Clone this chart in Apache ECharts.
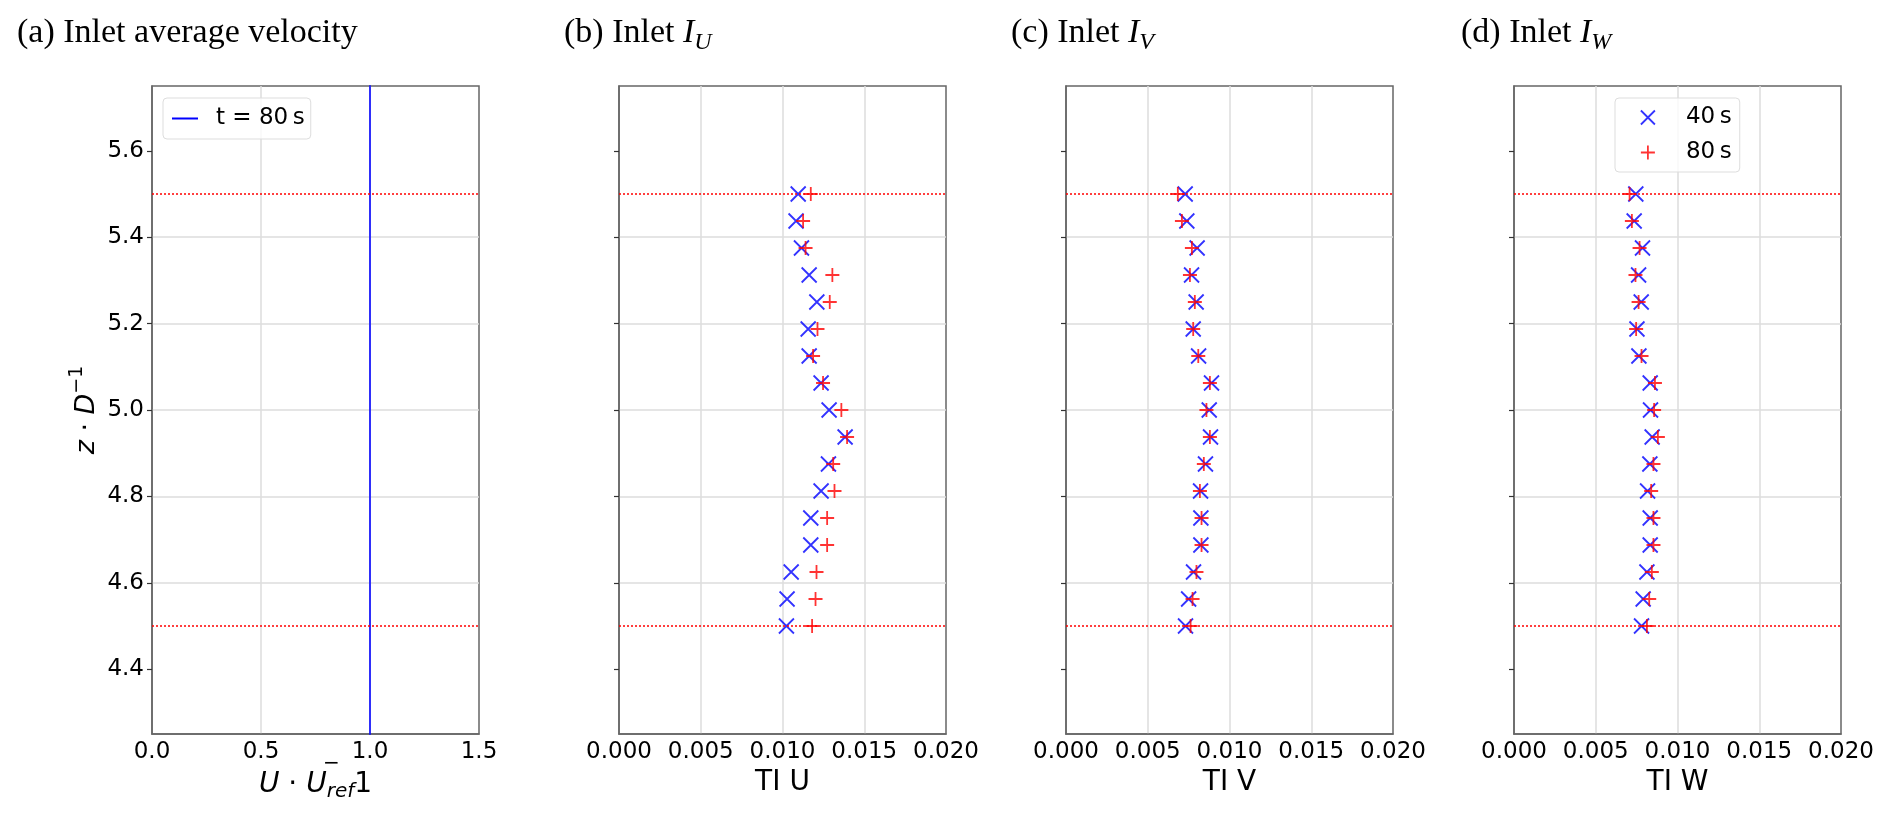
<!doctype html>
<html lang="en">
<head>
<meta charset="utf-8">
<title>Inlet profiles</title>
<style>
  html, body { margin: 0; padding: 0; background: #fff; }
  #chart { width: 1892px; height: 817px; }
</style>
</head>
<body>
<div id="chart"></div>
<script src="https://cdn.jsdelivr.net/npm/echarts@6/dist/echarts.min.js"></script>
<script>
// sampling heights z/D, top to bottom
var zLevels = [5.5, 5.4375, 5.375, 5.3125, 5.25, 5.1875, 5.125, 5.0625, 5.0,
               4.9375, 4.875, 4.8125, 4.75, 4.6875, 4.625, 4.5625, 4.5];

// turbulence intensity at the inlet, 40 s and 80 s
var tiU40 = [0.01096, 0.01083, 0.01116, 0.01163, 0.01210, 0.01157, 0.01163, 0.01236, 0.01285,
             0.01383, 0.01281, 0.01236, 0.01173, 0.01173, 0.01053, 0.01028, 0.01024];
var tiU80 = [0.01173, 0.01126, 0.01141, 0.01305, 0.01289, 0.01214, 0.01187, 0.01248, 0.01360,
             0.01395, 0.01310, 0.01318, 0.01273, 0.01273, 0.01208, 0.01202, 0.01181];
var tiV40 = [0.00729, 0.00739, 0.00802, 0.00768, 0.00796, 0.00778, 0.00811, 0.00890, 0.00876,
             0.00884, 0.00853, 0.00823, 0.00825, 0.00825, 0.00780, 0.00750, 0.00731];
var tiV80 = [0.00684, 0.00709, 0.00770, 0.00758, 0.00788, 0.00778, 0.00809, 0.00880, 0.00859,
             0.00880, 0.00843, 0.00819, 0.00829, 0.00829, 0.00798, 0.00774, 0.00762];
var tiW40 = [0.00745, 0.00735, 0.00786, 0.00762, 0.00778, 0.00752, 0.00764, 0.00833, 0.00835,
             0.00845, 0.00831, 0.00817, 0.00833, 0.00833, 0.00813, 0.00790, 0.00780];
var tiW80 = [0.00707, 0.00721, 0.00768, 0.00743, 0.00762, 0.00747, 0.00780, 0.00862, 0.00857,
             0.00880, 0.00853, 0.00839, 0.00853, 0.00853, 0.00843, 0.00827, 0.00813];

// mean inlet velocity profile (normalised)
var velZ = [4.0, 6.0];
var velU = [1.0, 1.0];

// rotor zone limits
var zoneBounds = [4.5, 5.5];

var yTicks = [4.4, 4.6, 4.8, 5.0, 5.2, 5.4, 5.6];
var titles = ['(a) Inlet average velocity', '(b) Inlet {i|I}{s|U}', '(c) Inlet {i|I}{s|V}', '(d) Inlet {i|I}{s|W}'];
var xNames = ['{it|U}{n| · }{it|U}{sub|ref}{n|1}', 'TI U', 'TI V', 'TI W'];

var chart = echarts.init(document.getElementById('chart'));

var sans = 'DejaVu Sans';
var serif = 'Liberation Serif';
var spine = '#666';
var gridLeft = [152, 619, 1066, 1514];
var titleLeft = [17, 564, 1011, 1461];

var grids = [], xAxes = [], yAxes = [], titleList = [], series = [];

function zoneSeries(k) {
    return {
        type: 'line', name: 'zone' + k, xAxisIndex: k, yAxisIndex: k, data: [],
        silent: true,
        markLine: {
            silent: true, symbol: ['none', 'none'], label: { show: false },
            lineStyle: { color: '#ff0000', type: [2, 2], width: 1.5 },
            data: zoneBounds.map(function (v) { return { yAxis: v }; })
        }
    };
}

for (var k = 0; k < 4; k++) {
    grids.push({
        left: gridLeft[k], top: 86, width: 327, height: 648,
        show: true, borderColor: spine, borderWidth: 1.5, backgroundColor: 'transparent'
    });
    titleList.push({
        text: titles[k], left: titleLeft[k], top: 11, padding: 0,
        textStyle: {
            fontFamily: serif, fontSize: 34, fontWeight: 'normal', color: '#000', lineHeight: 44,
            rich: {
                i: { fontFamily: serif, fontStyle: 'italic', fontSize: 34, color: '#000', lineHeight: 44 },
                s: { fontFamily: serif, fontStyle: 'italic', fontSize: 24, color: '#000', verticalAlign: 'bottom' }
            }
        }
    });
    xAxes.push({
        type: 'value', gridIndex: k,
        min: 0, max: k === 0 ? 1.5 : 0.02, interval: k === 0 ? 0.5 : 0.005,
        axisLine: { show: true, onZero: false, lineStyle: { color: spine, width: 1.5 } },
        axisTick: { show: false },
        axisLabel: {
            color: '#000', fontFamily: sans, fontSize: 23, margin: 7,
            formatter: (function (d) { return function (v) { return v.toFixed(d); }; })(k === 0 ? 1 : 3)
        },
        splitLine: { show: true, showMinLine: false, showMaxLine: false, lineStyle: { color: '#dcdcdc', width: 1.5 } },
        name: xNames[k], nameLocation: 'middle', nameGap: 34,
        nameTextStyle: {
            color: '#000', fontFamily: sans, fontSize: 28,
            rich: {
                it: { fontFamily: sans, fontStyle: 'italic', fontSize: 28, color: '#000', lineHeight: 34 },
                n: { fontFamily: sans, fontSize: 28, color: '#000', lineHeight: 34 },
                sub: { fontFamily: sans, fontStyle: 'italic', fontSize: 20, color: '#000', verticalAlign: 'bottom' }
            }
        }
    });
    yAxes.push({
        type: 'value', gridIndex: k, min: 4.25, max: 5.75,
        axisLine: { show: true, onZero: false, lineStyle: { color: spine, width: 1.5 } },
        axisTick: { show: true, length: 5, customValues: yTicks, lineStyle: { color: '#333', width: 1.2 } },
        axisLabel: {
            show: k === 0, customValues: yTicks, color: '#000', fontFamily: sans, fontSize: 23, margin: 8,
            formatter: function (v) { return v.toFixed(1); }
        },
        splitLine: { show: true, showMinLine: false, showMaxLine: false, lineStyle: { color: '#dcdcdc', width: 1.5 } },
        name: k === 0 ? '{it|z}{n| · }{it|D}{sup|−1}' : '',
        nameLocation: 'middle', nameGap: 46,
        nameTextStyle: {
            color: '#000', fontFamily: sans, fontSize: 27,
            rich: {
                it: { fontFamily: sans, fontStyle: 'italic', fontSize: 27, color: '#000', lineHeight: 38 },
                n: { fontFamily: sans, fontSize: 27, color: '#000', lineHeight: 38 },
                sup: { fontFamily: sans, fontSize: 19, color: '#000', verticalAlign: 'top' }
            }
        }
    });
}

// (a) mean velocity
series.push({
    type: 'line', name: 't = 80\u2009s', xAxisIndex: 0, yAxisIndex: 0,
    data: velZ.map(function (z, i) { return [velU[i], z]; }),
    symbol: 'none', color: '#0000ff', lineStyle: { color: '#0000ff', width: 1.6 }
});
series.push(zoneSeries(0));

var crossX = 'path://M0,0L10,10M10,0L0,10';
var crossP = 'path://M5,0L5,10M0,5L10,5';
var tiSets = [[tiU40, tiU80], [tiV40, tiV80], [tiW40, tiW80]];
tiSets.forEach(function (pair, j) {
    var k = j + 1;
    series.push({
        type: 'scatter', name: '40\u2009s', xAxisIndex: k, yAxisIndex: k,
        data: zLevels.map(function (z, i) { return [pair[0][i], z]; }),
        symbol: crossX, symbolSize: 15, color: '#0000ff',
        itemStyle: { color: '#0000ff', borderColor: '#0000ff', borderWidth: 1.8 }
    });
    series.push({
        type: 'scatter', name: '80\u2009s', xAxisIndex: k, yAxisIndex: k,
        data: zLevels.map(function (z, i) { return [pair[1][i], z]; }),
        symbol: crossP, symbolSize: 14, color: '#ff0000',
        itemStyle: { color: '#ff0000', borderColor: '#ff0000', borderWidth: 1.8 }
    });
    series.push(zoneSeries(k));
});

chart.setOption({
    animation: false,
    backgroundColor: '#fff',
    title: titleList,
    grid: grids,
    xAxis: xAxes,
    yAxis: yAxes,
    // superscript minus sitting over the "ref" subscript of the (a) x label
    graphic: [{
        type: 'text', left: 323, top: 754, silent: true,
        style: { text: '−', fontFamily: sans, fontSize: 20, fill: '#000' }
    }],
    legend: [{
        data: [{ name: 't = 80\u2009s', icon: 'rect' }], left: 163, top: 98, orient: 'vertical',
        padding: [9, 6, 9, 9], itemWidth: 26, itemHeight: 2,
        backgroundColor: 'rgba(255,255,255,0.8)', borderColor: '#dddddd', borderWidth: 1, borderRadius: 4,
        textStyle: { color: '#000', fontFamily: sans, fontSize: 23, padding: [0, 0, 0, 13] }
    }, {
        data: ['40\u2009s', '80\u2009s'], left: 1615, top: 98, orient: 'vertical',
        padding: [8, 8, 8, 25], itemWidth: 14, itemHeight: 14, itemGap: 12,
        backgroundColor: 'rgba(255,255,255,0.8)', borderColor: '#dddddd', borderWidth: 1, borderRadius: 4,
        itemStyle: { borderWidth: 1.8 },
        textStyle: { color: '#000', fontFamily: sans, fontSize: 23, padding: [0, 0, 0, 26] }
    }],
    series: series
});
</script>
</body>
</html>
